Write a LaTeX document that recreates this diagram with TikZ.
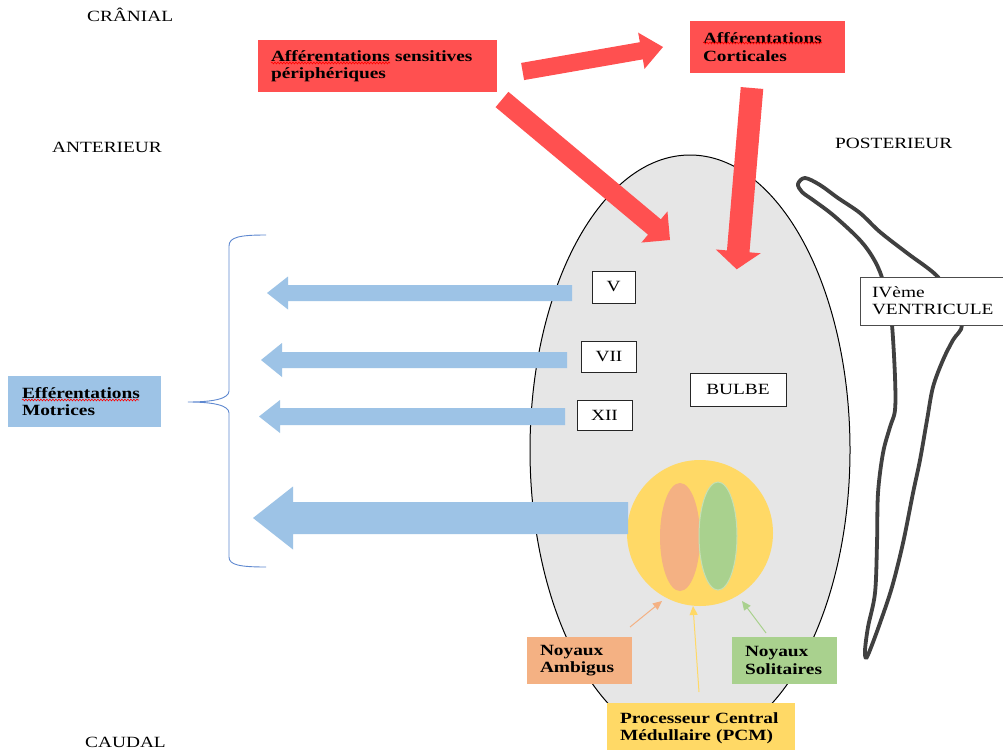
\documentclass[tikz,border=0pt]{standalone}
\usepackage{fontspec}
\setmainfont{Liberation Serif}[FakeStretch=1.24]
\usetikzlibrary{calc,arrows.meta,decorations.pathmorphing}
\definecolor{redA}{HTML}{FF5050}
\definecolor{blueA}{HTML}{9DC3E6}
\definecolor{braceC}{HTML}{5E88D0}
\definecolor{bulbG}{HTML}{E6E6E6}
\definecolor{yelA}{HTML}{FFD966}
\definecolor{orA}{HTML}{F4B183}
\definecolor{grA}{HTML}{A9D18E}
\definecolor{grB}{HTML}{C5E0B4}
\definecolor{ventC}{HTML}{404040}
\newcommand\bodysize{\fontsize{15.6pt}{17.3pt}\selectfont}
% style, from, to, half shaft, half head, head length
\newcommand\fatarrow[6]{%
  \path ($(#3)!#6!(#2)$) coordinate (fahd);
  \fill[#1] ($(#2)!#4!90:(#3)$) -- ($(fahd)!#4!90:(#3)$) -- ($(fahd)!#5!90:(#3)$) -- (#3)
    -- ($(fahd)!#5!-90:(#3)$) -- ($(fahd)!#4!-90:(#3)$) -- ($(#2)!#4!-90:(#3)$) -- cycle;}
\begin{document}
\begin{tikzpicture}[x=1pt,y=-1pt,
  lbl/.style={font=\bodysize, inner sep=0pt, anchor=base west},
  colbox/.style={font=\bodysize\bfseries, align=left, inner xsep=13pt, inner ysep=0pt, draw=none},
  numbox/.style={font=\bodysize, draw=black!85, line width=0.9pt, fill=white, inner sep=0pt},
  thinarrow/.style={line width=1pt, -{Triangle[length=9pt,width=8pt]}},
  spellwave/.style={red, line width=0.6pt, decorate, decoration={snake, amplitude=0.9pt, segment length=3pt}}]
\useasboundingbox (0,0) rectangle (1003,749);
\fill[white] (0,0) rectangle (1003,749);

% orientation labels
\node[lbl] (cran) at (87,22) {CRÂNIAL};
\node[lbl] (ant) at (52,152) {ANTERIEUR};
\node[lbl] (post) at (835,148) {POSTERIEUR};
\node[lbl] (caud) at (85,747) {CAUDAL};

% bulbe
\filldraw[fill=bulbG, draw=black, line width=1pt] (690,450) ellipse [x radius=160, y radius=295];

% fourth ventricle
\draw[ventC, line width=3.8pt, line join=round] plot[smooth cycle, tension=0.55] coordinates {
 (805,178) (820,185) (838,198) (860,213) (880,232) (907,253) (937,276) (952,300) (962,325)
 (953,340) (943,360) (933,387) (927,420) (920,460) (913,493) (903,543) (892,587) (880,623)
 (870,650) (866,658) (865,650) (868,627) (875,593) (877,543) (878,493) (883,453) (890,427)
 (895,410) (895,377) (892,325) (888,300) (880,272) (870,253) (857,237) (833,215) (813,200)
 (802,192) (798,184)};
\node[font=\bodysize, align=left, fill=white, draw=black!70, line width=0.9pt, inner xsep=12pt, inner ysep=0pt,
  minimum width=150pt, minimum height=48pt, text width=126pt] (vent) at (935,301) {IVème\\VENTRICULE};

% red boxes
\node[colbox, fill=redA, minimum width=239pt, minimum height=52pt, text width=213pt] (sens) at (377.5,66)
  {Afférentations sensitives\\périphériques};
\node[colbox, fill=redA, minimum width=155pt, minimum height=52pt, text width=129pt] (cort) at (767.5,47)
  {Afférentations\\Corticales};
\draw[spellwave] (271,63) -- (390,63);
\draw[spellwave] (703,43) -- (822,43);

% red arrows
\coordinate (r1s) at (522.6,71.5); \coordinate (r1e) at (663,47);
\coordinate (r2s) at (502,99.5);   \coordinate (r2e) at (670,240);
\coordinate (r3s) at (752,88);     \coordinate (r3e) at (736.7,269.3);
\fatarrow{redA}{r1s}{r1e}{8.7pt}{18.4pt}{22pt}
\fatarrow{redA}{r2s}{r2e}{10pt}{20.3pt}{20.3pt}
\fatarrow{redA}{r3s}{r3e}{11.3pt}{22.5pt}{18pt}

% nerve boxes
\node[numbox, minimum width=43pt, minimum height=32pt] (V) at (613.5,287) {V};
\node[numbox, minimum width=55pt, minimum height=31pt] (VII) at (609,356.5) {VII};
\node[numbox, minimum width=55pt, minimum height=30pt] (XII) at (604.5,415) {XII};
\node[numbox, minimum width=96pt, minimum height=33pt] (bulbe) at (738,389.5) {BULBE};

% PCM
\node[circle, fill=yelA, minimum size=146pt, inner sep=0pt] (pcmc) at (700,533) {};
\fill[orA] (680,537) ellipse [x radius=20, y radius=54];
\filldraw[fill=grA, draw=grB, line width=1pt] (718,536) ellipse [x radius=19, y radius=54];

% blue arrows
\coordinate (b1s) at (572,293);   \coordinate (b1e) at (267,293);
\coordinate (b2s) at (567,360);   \coordinate (b2e) at (261,360);
\coordinate (b3s) at (565,416.5); \coordinate (b3e) at (259,416.5);
\coordinate (b4s) at (628,518);   \coordinate (b4e) at (253,518);
\fatarrow{blueA}{b1s}{b1e}{8pt}{16.5pt}{21pt}
\fatarrow{blueA}{b2s}{b2e}{8pt}{17pt}{21pt}
\fatarrow{blueA}{b3s}{b3e}{8.5pt}{16.5pt}{21pt}
\fatarrow{blueA}{b4s}{b4e}{16pt}{31.5pt}{40pt}

% brace
\draw[braceC, line width=0.9pt] (266,235) .. controls (240,235) and (229,237) .. (229,246) -- (229,391)
  .. controls (229,399) and (212,402) .. (188,402)
  .. controls (212,402) and (229,405) .. (229,413) -- (229,557)
  .. controls (229,565) and (240,567) .. (266,567);

% efferent label
\node[colbox, fill=blueA, inner xsep=14pt, minimum width=153pt, minimum height=51pt, text width=125pt] (eff) at (84.5,401.5)
  {Efférentations\\Motrices};
\draw[spellwave] (22,400) -- (139,400);

% nuclei labels
\node[colbox, fill=orA, minimum width=105pt, minimum height=47pt, text width=79pt] (amb) at (579.5,660.5) {Noyaux\\Ambigus};
\node[colbox, fill=grA, minimum width=105pt, minimum height=47pt, text width=79pt] (sol) at (784.5,660.5) {Noyaux\\Solitaires};
\node[colbox, fill=yelA, minimum width=188pt, minimum height=50pt, text width=162pt] (pcm) at (701,728) {Processeur Central\\Médullaire (PCM)};

% thin arrows
\coordinate (a1s) at (630,627); \coordinate (a1e) at (662,601);
\coordinate (a2s) at (699,692); \coordinate (a2e) at (693,606);
\coordinate (a3s) at (766,633); \coordinate (a3e) at (742,601);
\draw[thinarrow, orA] (a1s) -- (a1e);
\draw[thinarrow, yelA] (a2s) -- (a2e);
\draw[thinarrow, grA] (a3s) -- (a3e);
\end{tikzpicture}
\end{document}
